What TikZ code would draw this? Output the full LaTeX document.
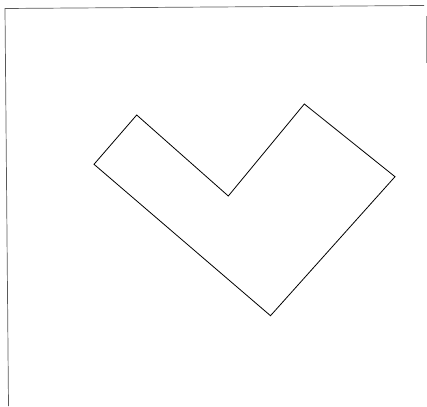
\documentclass[tikz,border=0pt]{standalone}
\begin{document}
\begin{tikzpicture}[x=1pt,y=-1pt,
  framestyle/.style={draw=black!65,line width=0.7pt},
  shapestyle/.style={draw=black,line width=0.8pt,line join=miter}]
\useasboundingbox (0,0) rectangle (427,406);
% frame (scanned border)
\coordinate (ftl) at (5,8.5);
\coordinate (ftr) at (424,5.5);
\coordinate (fbl) at (8.5,406);
\draw[framestyle] (ftr) -- (ftl) -- (fbl);
\coordinate (rs1) at (426,16);
\coordinate (rs2) at (426,63);
\draw[draw=black!40,line width=0.6pt] (rs1) -- (rs2);
% L-shaped figure
\coordinate (a) at (136.7,115);
\coordinate (b) at (228.3,196);
\coordinate (c) at (304.3,104);
\coordinate (d) at (395,176.7);
\coordinate (e) at (270.5,315.7);
\coordinate (f) at (94,164.3);
\draw[shapestyle] (a) -- (b) -- (c) -- (d) -- (e) -- (f) -- cycle;
\end{tikzpicture}
\end{document}
